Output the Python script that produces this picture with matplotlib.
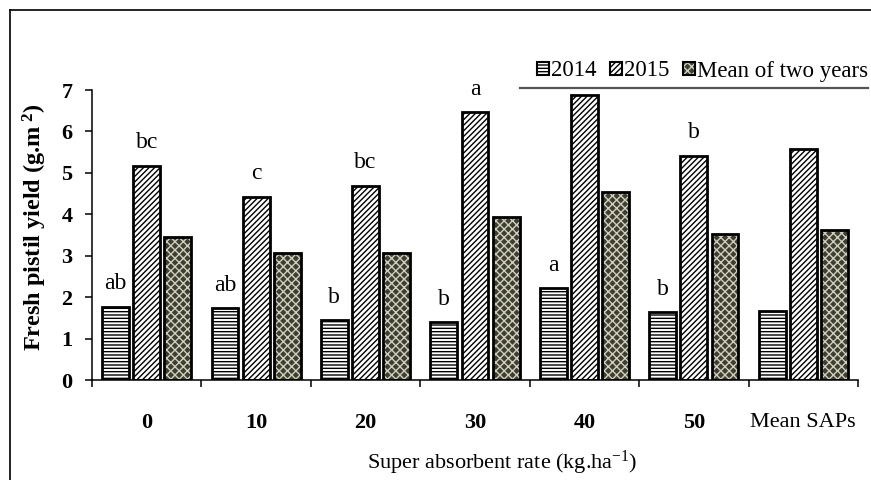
import matplotlib
matplotlib.use("Agg")
import matplotlib.pyplot as plt
from matplotlib.patches import Patch
from matplotlib.lines import Line2D
import numpy as np

categories = ["0", "10", "20", "30", "40", "50", "Mean SAPs"]
series_names = ["2014", "2015", "Mean of two years"]
y2014 = [1.77, 1.74, 1.45, 1.39, 2.21, 1.63, 1.67]
y2015 = [5.17, 4.42, 4.69, 6.47, 6.89, 5.41, 5.58]
ymean = [3.44, 3.07, 3.07, 3.93, 4.53, 3.52, 3.62]
letters2014 = ["ab", "ab", "b", "b", "a", "b", ""]
letters2015 = ["bc", "c", "bc", "a", "", "b", ""]
yticks = [0, 1, 2, 3, 4, 5, 6, 7]

plt.rcParams['font.family'] = ['Liberation Serif', 'DejaVu Serif']
plt.rcParams['mathtext.fontset'] = 'custom'
plt.rcParams['mathtext.rm'] = 'Liberation Serif'
plt.rcParams['mathtext.it'] = 'Liberation Serif:italic'
plt.rcParams['mathtext.bf'] = 'Liberation Serif:bold'
plt.rcParams['hatch.linewidth'] = 1.0

W, H = 871, 480
fig = plt.figure(figsize=(W / 100, H / 100), dpi=100)
ax = fig.add_axes([92 / W, 1 - 380 / H, (858 - 92) / W, (380 - 90) / H])

styles = [
    dict(fc="white", hatch="-----", hc="black"),
    dict(fc="white", hatch="//////", hc="black"),
    dict(fc="#3e3e32", hatch="xxxx", hc="#cfcfbc"),
]
data = [y2014, y2015, ymean]
offsets = [-0.285, 0.0, 0.285]
bw = 0.245
x = np.arange(len(categories)) + 0.5

for vals, st, off in zip(data, styles, offsets):
    ax.bar(x + off, vals, width=bw, facecolor=st["fc"], hatch=st["hatch"],
           edgecolor=st["hc"], linewidth=0, zorder=2)
    ax.bar(x + off, vals, width=bw, fill=False, edgecolor="black",
           linewidth=2.0, zorder=3)

for i in range(len(categories)):
    if letters2014[i]:
        ax.text(x[i] + offsets[0], y2014[i] + 0.42, letters2014[i], ha="center",
                va="baseline", fontsize=17)
    if letters2015[i]:
        ax.text(x[i] + offsets[1], y2015[i] + 0.42, letters2015[i], ha="center",
                va="baseline", fontsize=17)

ax.set_xlim(0, len(categories))
ax.set_ylim(0, 7)
ax.set_yticks(yticks)
ax.set_yticklabels([str(v) for v in yticks], fontsize=16, fontweight="bold")
ax.set_xticks(np.arange(len(categories) + 1))
ax.set_xticklabels([])
ax.set_xticks(x, minor=True)
ax.set_xticklabels(categories, minor=True, fontsize=16)
for lab in ax.get_xticklabels(minor=True):
    if lab.get_text() != "Mean SAPs":
        lab.set_fontweight("bold")
ax.tick_params(axis="x", which="minor", length=0, pad=24)
ax.tick_params(axis="x", which="major", length=5, width=1.1, direction="out")
ax.tick_params(axis="y", length=5, width=1.1, direction="out", pad=9)
for s in ["top", "right"]:
    ax.spines[s].set_visible(False)
for s in ["left", "bottom"]:
    ax.spines[s].set_linewidth(1.1)

fig.text(35 / W, 1 - 227 / H, r"Fresh pistil yield (g.m$^{\ \mathbf{2}}$)",
         rotation=90, ha="center", va="center", fontsize=17.5, fontweight="bold")
fig.text(502 / W, 1 - 463 / H, r"Super absorbent rate (kg.ha$^{-1}$)",
         ha="center", va="center", fontsize=16)

handles = []
for st in styles:
    handles.append((Patch(facecolor=st["fc"], hatch=st["hatch"], edgecolor=st["hc"], linewidth=0),
                    Patch(fill=False, edgecolor="black", linewidth=1.5)))
fig.legend(handles, series_names, loc="center right", bbox_to_anchor=(868 / W, 1 - 71 / H),
           ncol=3, frameon=False, fontsize=16.5, handlelength=0.5, handleheight=0.5,
           handletextpad=0.1, columnspacing=0.6, borderaxespad=0, borderpad=0)

fig.add_artist(Line2D([520 / W, 868 / W], [1 - 88 / H, 1 - 88 / H], color="#555555", lw=1.6))
fig.add_artist(Line2D([9.5 / W, 1.0], [1 - 9.5 / H, 1 - 9.5 / H], color="black", lw=1.2))
fig.add_artist(Line2D([9.5 / W, 9.5 / W], [0, 1 - 9.5 / H], color="black", lw=1.2))

fig.savefig("out.png", dpi=100)
